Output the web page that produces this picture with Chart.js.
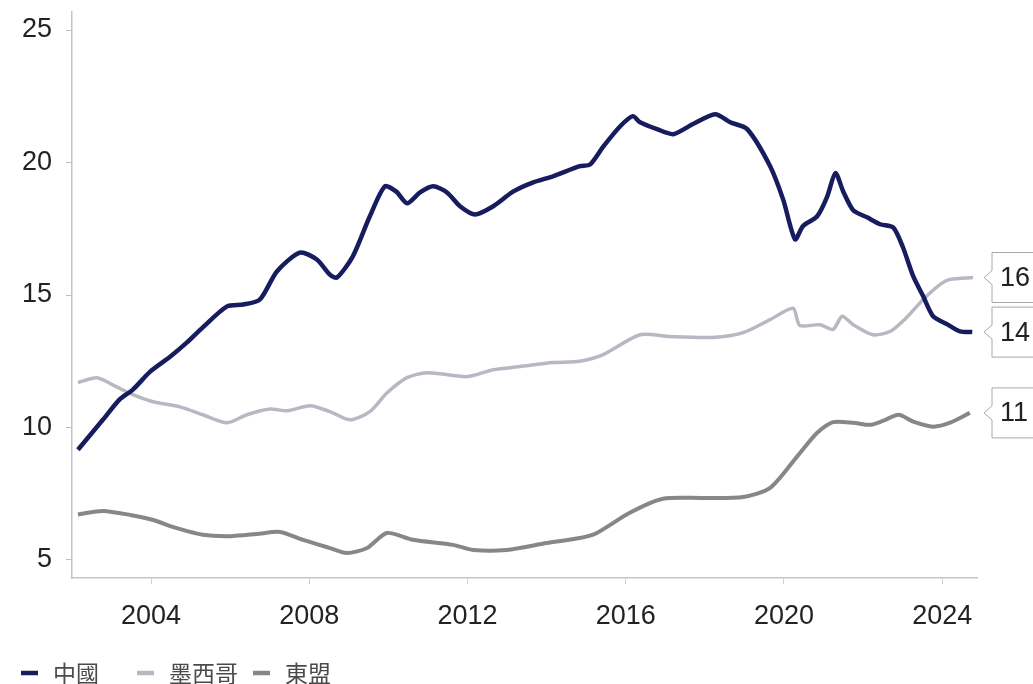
<!DOCTYPE html>
<html>
<head>
<meta charset="utf-8">
<script src="https://cdn.jsdelivr.net/npm/chart.js@4.4.1/dist/chart.umd.min.js"></script>
<style>
  html, body { margin: 0; padding: 0; background: #ffffff; }
  #wrap { position: relative; width: 1033px; height: 684px; }
</style>
</head>
<body>
<div id="wrap"><canvas id="shareChart"></canvas></div>
<script>
// Series: year (decimal) and share, one pair of arrays per partner
const seriesNames = ['中國', '墨西哥', '東盟'];

const chinaDates = [2002.15, 2002.78, 2003.2, 2003.54, 2003.97, 2004.48, 2004.9, 2005.3, 2005.92, 2006.33,
  2006.75, 2007.18, 2007.76, 2008.19, 2008.52, 2008.7, 2009.1, 2009.53, 2009.91, 2010.2,
  2010.47, 2010.8, 2011.13, 2011.48, 2011.81, 2012.19, 2012.65, 2013.15, 2013.66, 2014.16,
  2014.84, 2015.1, 2015.43, 2015.86, 2016.18, 2016.36, 2016.79, 2017.2, 2017.7, 2018.26,
  2018.64, 2019.07, 2019.65, 2019.98, 2020.28, 2020.48, 2020.84, 2021.09, 2021.3, 2021.5,
  2021.75, 2022.1, 2022.43, 2022.76, 2023.0, 2023.27, 2023.52, 2023.77, 2024.12, 2024.45, 2024.76];
const chinaValues = [9.16, 10.29, 11.05, 11.43, 12.1, 12.67, 13.2, 13.77, 14.57, 14.64,
  14.83, 15.89, 16.6, 16.34, 15.77, 15.66, 16.46, 17.97, 19.1, 18.9,
  18.46, 18.87, 19.1, 18.87, 18.35, 18.04, 18.35, 18.9, 19.25, 19.48,
  19.86, 19.93, 20.6, 21.37, 21.75, 21.52, 21.26, 21.07, 21.45, 21.82,
  21.52, 21.26, 19.86, 18.6, 17.1, 17.6, 17.97, 18.7, 19.6, 18.9,
  18.2, 17.93, 17.67, 17.55, 16.83, 15.7, 14.95, 14.2, 13.9, 13.63, 13.6];

const mexicoDates = [2002.15, 2002.63, 2003.04, 2003.54, 2004.05, 2004.73, 2005.31, 2005.92, 2006.42, 2007.0,
  2007.44, 2008.02, 2008.52, 2009.03, 2009.53, 2009.96, 2010.47, 2010.98, 2011.99, 2012.65,
  2013.33, 2014.16, 2014.84, 2015.43, 2016.36, 2017.12, 2018.2, 2018.97, 2019.65, 2020.23,
  2020.4, 2020.91, 2021.24, 2021.47, 2021.75, 2022.25, 2022.68, 2023.1, 2023.52, 2023.95,
  2024.2, 2024.78];
const mexicoValues = [11.7, 11.88, 11.6, 11.24, 10.97, 10.78, 10.48, 10.18, 10.48, 10.7,
  10.63, 10.82, 10.6, 10.29, 10.6, 11.3, 11.88, 12.07, 11.92, 12.18,
  12.3, 12.45, 12.5, 12.75, 13.5, 13.43, 13.4, 13.58, 14.07, 14.5,
  13.85, 13.88, 13.7, 14.2, 13.88, 13.5, 13.62, 14.15, 14.83, 15.4,
  15.59, 15.66];

const aseanDates = [2002.15, 2002.78, 2003.47, 2004.05, 2004.65, 2005.31, 2006.0, 2006.67, 2007.26, 2007.84,
  2008.52, 2008.95, 2009.46, 2009.96, 2010.62, 2011.63, 2012.14, 2012.99, 2014.0, 2014.84,
  2015.27, 2016.1, 2016.94, 2017.95, 2018.97, 2019.65, 2020.33, 2020.84, 2021.24, 2021.75,
  2022.18, 2022.5, 2022.9, 2023.27, 2023.77, 2024.2, 2024.7];
const aseanValues = [6.72, 6.85, 6.7, 6.51, 6.2, 5.95, 5.9, 5.98, 6.06, 5.76,
  5.45, 5.26, 5.45, 6.02, 5.76, 5.57, 5.38, 5.38, 5.64, 5.83,
  6.02, 6.78, 7.31, 7.34, 7.38, 7.72, 8.9, 9.8, 10.2, 10.18,
  10.1, 10.25, 10.48, 10.22, 10.03, 10.18, 10.55];

const xTickYears = [2004, 2008, 2012, 2016, 2020, 2024];
const yTickValues = [5, 10, 15, 20, 25];

const lineColors = ['#171c5e', '#b7b9c2', '#878787'];
const lineWidths = [4.5, 3.5, 4];

function toPoints(dates, values) {
  return dates.map((d, i) => ({ x: d, y: values[i] }));
}

const allSeries = [
  toPoints(chinaDates, chinaValues),
  toPoints(mexicoDates, mexicoValues),
  toPoints(aseanDates, aseanValues)
];

// Callout boxes with the rounded last value, sitting right of the plot
const endLabels = {
  id: 'endLabels',
  afterDatasetsDraw(chart) {
    const ctx = chart.ctx;
    const yScale = chart.scales.y;
    const boxLeft = chart.chartArea.right + 15;
    ctx.save();
    chart.data.datasets.forEach(ds => {
      const last = ds.data[ds.data.length - 1];
      const cy = yScale.getPixelForValue(last.y);
      const h = 50;
      const top = cy - h / 2;
      ctx.beginPath();
      ctx.moveTo(boxLeft, top);
      ctx.lineTo(boxLeft + 60, top);
      ctx.lineTo(boxLeft + 60, top + h);
      ctx.lineTo(boxLeft, top + h);
      ctx.lineTo(boxLeft, cy + 7);
      ctx.lineTo(boxLeft - 8, cy);
      ctx.lineTo(boxLeft, cy - 7);
      ctx.closePath();
      ctx.fillStyle = '#ffffff';
      ctx.fill();
      ctx.strokeStyle = '#a8a8a8';
      ctx.lineWidth = 1;
      ctx.stroke();
      ctx.fillStyle = '#222222';
      ctx.font = '27px "Liberation Sans", Arial, sans-serif';
      ctx.textAlign = 'left';
      ctx.textBaseline = 'middle';
      ctx.fillText(String(Math.round(last.y)), boxLeft + 8, cy + 1);
    });
    ctx.restore();
  }
};

// Legend row along the bottom edge
const bottomLegend = {
  id: 'bottomLegend',
  afterDraw(chart) {
    const ctx = chart.ctx;
    const starts = [21, 137, 253];
    const y = 673;
    ctx.save();
    chart.data.datasets.forEach((ds, i) => {
      const x = starts[i];
      ctx.strokeStyle = ds.borderColor;
      ctx.lineWidth = 4.5;
      ctx.beginPath();
      ctx.moveTo(x, y);
      ctx.lineTo(x + 17, y);
      ctx.stroke();
      ctx.fillStyle = '#4a4a4a';
      ctx.font = '23px "Noto Sans CJK TC", "Noto Sans CJK SC", sans-serif';
      ctx.textAlign = 'left';
      ctx.textBaseline = 'middle';
      ctx.fillText(ds.label, x + 32, y);
    });
    ctx.restore();
  }
};

const ctx = document.getElementById('shareChart').getContext('2d');
const shareChart = new Chart(ctx, {
  type: 'line',
  data: {
    datasets: allSeries.map((pts, i) => ({
      label: seriesNames[i],
      data: pts,
      borderColor: lineColors[i],
      borderWidth: lineWidths[i],
      pointRadius: 0,
      tension: 0.25,
      fill: false
    }))
  },
  options: {
    responsive: true,
    maintainAspectRatio: false,
    animation: false,
    layout: {
      padding: { top: 12, right: 56, bottom: 0, left: 0 }
    },
    scales: {
      x: {
        type: 'linear',
        min: 2002.0,
        max: 2024.88,
        afterBuildTicks: scale => {
          scale.ticks = xTickYears.map(v => ({ value: v }));
        },
        afterFit: scale => {
          scale.height = 106;
          scale.paddingLeft = 0;
          scale.paddingRight = 0;
        },
        border: { color: '#c4c4c4', width: 1.5 },
        grid: { drawOnChartArea: false, tickLength: 6, color: '#d0d0d0' },
        ticks: {
          color: '#222222',
          padding: 16,
          maxRotation: 0,
          font: { family: '"Liberation Sans", Arial, sans-serif', size: 27 },
          callback: v => String(v)
        }
      },
      y: {
        min: 4.32,
        max: 25.68,
        afterBuildTicks: scale => {
          scale.ticks = yTickValues.map(v => ({ value: v }));
        },
        afterFit: scale => {
          scale.width = 72;
          scale.paddingTop = 0;
          scale.paddingBottom = 0;
        },
        border: { color: '#c4c4c4', width: 1.5 },
        grid: { drawOnChartArea: false, tickLength: 6, color: '#bdbdbd' },
        ticks: {
          color: '#222222',
          padding: 14,
          font: { family: '"Liberation Sans", Arial, sans-serif', size: 27 }
        }
      }
    },
    plugins: {
      legend: { display: false },
      tooltip: { enabled: false }
    }
  },
  plugins: [endLabels, bottomLegend]
});
</script>
</body>
</html>
